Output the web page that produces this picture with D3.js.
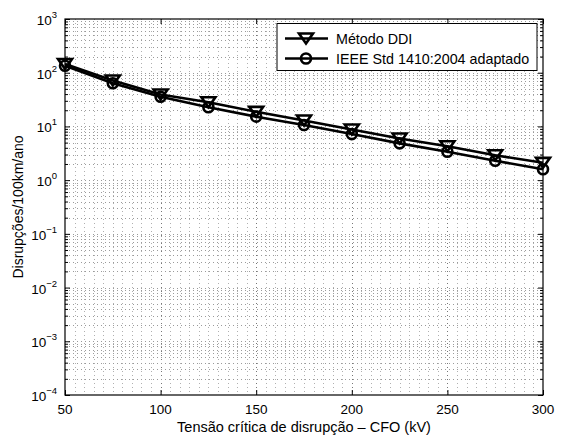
<!DOCTYPE html>
<html>
<head>
<meta charset="utf-8">
<script src="https://cdn.jsdelivr.net/npm/d3@7"></script>
<style>
  body { margin: 0; background: #fff; }
  text { font-family: "Liberation Sans", Arial, sans-serif; fill: #000; }
</style>
</head>
<body>
<svg id="chart" width="563" height="440"></svg>
<script>
// data
const cfo = [50, 75, 100, 125, 150, 175, 200, 225, 250, 275, 300]
const ddi = [145, 71.6, 39.3, 28.2, 18.7, 12.9, 8.75, 5.96, 4.28, 2.91, 2.10]
const ieee = [135, 63.5, 35.7, 22.7, 15.2, 10.6, 7.2, 4.84, 3.38, 2.30, 1.59]
const seriesNames = ['Método DDI', 'IEEE Std 1410:2004 adaptado']
const xTicks = [50, 100, 150, 200, 250, 300]
const yExponents = [3, 2, 1, 0, -1, -2, -3, -4]
const xLabel = 'Tensão crítica de disrupção – CFO (kV)'
const yLabel = 'Disrupções/100km/ano'

let pLeft = 65, pRight = 543, pTop = 19, pBottom = 395
let svg = d3.select('#chart')
let x = d3.scaleLinear().domain([50, 300]).range([pLeft, pRight])
let y = d3.scaleLog().domain([1e-4, 1e3]).range([pBottom, pTop])

// grid
let grid = svg.append('g').attr('stroke-width', 1).attr('stroke-dasharray', '1,3')
let xMinor = d3.range(55, 300, 5)
grid.selectAll('.vx').data(xMinor).enter().append('line')
    .attr('x1', d => Math.round(x(d)) + 0.5).attr('x2', d => Math.round(x(d)) + 0.5)
    .attr('y1', pTop).attr('y2', pBottom)
    .attr('stroke', d => d % 50 === 0 ? '#777' : '#b0b0b0')
let yMinor = []
for (let e = -4; e < 3; e++) {
    for (let m = 1; m < 10; m++) {
        if (e === -4 && m === 1) continue
        yMinor.push(m * Math.pow(10, e))
    }
}
grid.selectAll('.hy').data(yMinor).enter().append('line')
    .attr('x1', pLeft).attr('x2', pRight)
    .attr('y1', d => Math.round(y(d)) + 0.5).attr('y2', d => Math.round(y(d)) + 0.5)
    .attr('stroke', '#9a9a9a')

// axes (ticks inside like matlab)
let yMajor = yExponents.map(e => Math.pow(10, e))
let yMinorOnly = yMinor.filter(d => !yMajor.some(v => Math.abs(v - d) / v < 1e-9))
svg.append('g').attr('transform', 'translate(0,' + pBottom + ')')
    .call(d3.axisBottom(x).tickValues(xTicks).tickSizeInner(-5).tickSizeOuter(0).tickFormat(''))
svg.append('g').attr('transform', 'translate(0,' + pTop + ')')
    .call(d3.axisTop(x).tickValues(xTicks).tickSizeInner(-5).tickSizeOuter(0).tickFormat(''))
svg.append('g').attr('transform', 'translate(' + pLeft + ',0)')
    .call(d3.axisLeft(y).tickValues(yMajor).tickSizeInner(-5).tickSizeOuter(0).tickFormat(''))
svg.append('g').attr('transform', 'translate(' + pLeft + ',0)')
    .call(d3.axisLeft(y).tickValues(yMinorOnly).tickSizeInner(-3).tickSizeOuter(0).tickFormat(''))
svg.append('g').attr('transform', 'translate(' + pRight + ',0)')
    .call(d3.axisRight(y).tickValues(yMajor).tickSizeInner(-5).tickSizeOuter(0).tickFormat(''))
svg.append('g').attr('transform', 'translate(' + pRight + ',0)')
    .call(d3.axisRight(y).tickValues(yMinorOnly).tickSizeInner(-3).tickSizeOuter(0).tickFormat(''))
svg.selectAll('.domain').remove()
svg.selectAll('.tick line').attr('stroke', '#000')
svg.append('rect').attr('x', pLeft).attr('y', pTop).attr('width', pRight - pLeft).attr('height', pBottom - pTop)
    .attr('fill', 'none').attr('stroke', '#000').attr('stroke-width', 1.2)

// tick labels
svg.selectAll('.xlab').data(xTicks).enter().append('text')
    .attr('x', d => x(d)).attr('y', pBottom + 19).attr('text-anchor', 'middle')
    .attr('font-size', 13.5).text(d => d)
let yl = svg.selectAll('.ylab').data(yExponents).enter().append('text')
    .attr('x', 57).attr('y', d => y(Math.pow(10, d)) + 6).attr('text-anchor', 'end').attr('font-size', 13.5)
yl.append('tspan').text('10')
yl.append('tspan').attr('dy', -7).attr('font-size', 9.5).text(d => d < 0 ? '\u2212' + (-d) : d)

// axis labels
svg.append('text').attr('x', (pLeft + pRight) / 2).attr('y', 432).attr('text-anchor', 'middle')
    .attr('font-size', 14.5).text(xLabel)
svg.append('text').attr('transform', 'translate(23,' + (pTop + pBottom) / 2 + ') rotate(-90)')
    .attr('text-anchor', 'middle').attr('font-size', 14).text(yLabel)

// series
let line = d3.line().x(d => x(d[0])).y(d => y(d[1]))
let triPath = 'M-7,-5 L7,-5 L0,5 Z'
let plot = svg.append('g')
function drawSeries(vals, marker) {
    let pts = cfo.map((c, i) => [c, vals[i]])
    plot.append('path').datum(pts).attr('d', line)
        .attr('fill', 'none').attr('stroke', '#000').attr('stroke-width', 2.6)
    let m = plot.selectAll(null).data(pts).enter()
    if (marker === 'tri') {
        m.append('path').attr('d', triPath)
            .attr('transform', d => 'translate(' + x(d[0]) + ',' + y(d[1]) + ')')
            .attr('fill', 'none').attr('stroke', '#000').attr('stroke-width', 2.6)
    } else {
        m.append('circle').attr('cx', d => x(d[0])).attr('cy', d => y(d[1])).attr('r', 5)
            .attr('fill', 'none').attr('stroke', '#000').attr('stroke-width', 2.6)
    }
}
drawSeries(ieee, 'circ')
drawSeries(ddi, 'tri')

// legend
let lg = svg.append('g')
lg.append('rect').attr('x', 277).attr('y', 23.5).attr('width', 260).attr('height', 47)
    .attr('fill', '#fff').attr('stroke', '#000').attr('stroke-width', 1)
let rows = [38.5, 58.5]
seriesNames.forEach((name, i) => {
    let ry = rows[i]
    lg.append('line').attr('x1', 285).attr('x2', 328).attr('y1', ry).attr('y2', ry)
        .attr('stroke', '#000').attr('stroke-width', 2.6)
    if (i === 0) {
        lg.append('path').attr('d', triPath).attr('transform', 'translate(306,' + ry + ')')
            .attr('fill', 'none').attr('stroke', '#000').attr('stroke-width', 2.6)
    } else {
        lg.append('circle').attr('cx', 306).attr('cy', ry).attr('r', 5)
            .attr('fill', 'none').attr('stroke', '#000').attr('stroke-width', 2.6)
    }
    lg.append('text').attr('x', 336).attr('y', ry + 5).attr('font-size', 14.3).text(name)
})
</script>
</body>
</html>
